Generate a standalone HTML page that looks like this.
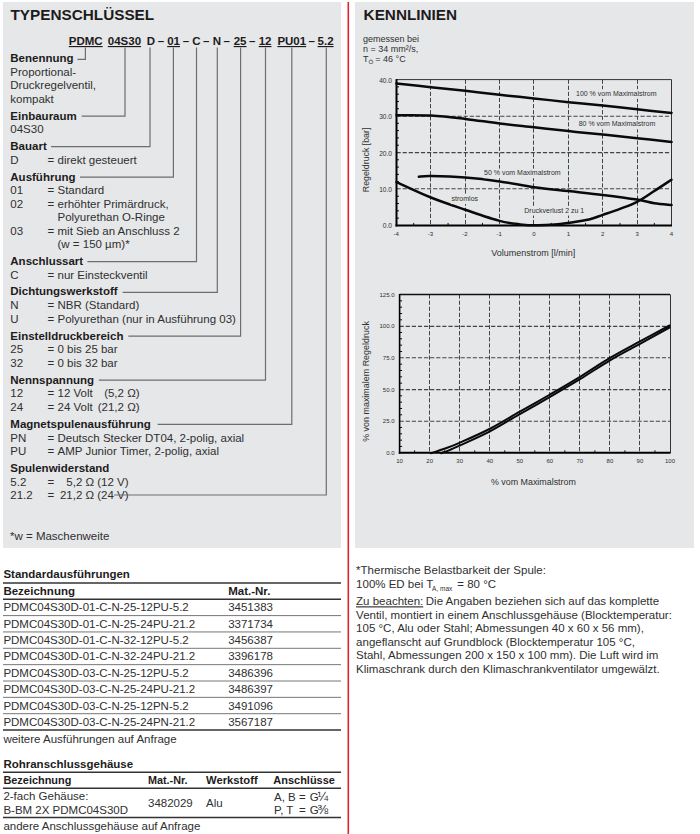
<!DOCTYPE html>
<html><head><meta charset="utf-8"><style>
html,body{margin:0;padding:0;background:#fff;width:700px;height:834px;overflow:hidden}
svg{display:block}
text{font-family:"Liberation Sans",sans-serif}
</style></head><body>
<svg width="700" height="834" viewBox="0 0 700 834">
<rect x="3" y="2" width="338" height="546" fill="#e6e7e8"/>
<rect x="355" y="2" width="339" height="546" fill="#e6e7e8"/>
<rect x="347.5" y="2" width="1.6" height="832" fill="#e52330"/>
<text x="10.5" y="20" font-size="15.3" font-weight="bold" fill="#1d1b1c">TYPENSCHLÜSSEL</text>
<text x="68.8" y="45" font-size="11.5" font-weight="bold" fill="#1d1b1c" text-decoration="underline">PDMC</text>
<text x="107.8" y="45" font-size="11.5" font-weight="bold" fill="#1d1b1c" text-decoration="underline">04S30</text>
<text x="146.8" y="45" font-size="11.5" font-weight="bold" fill="#1d1b1c">D</text>
<text x="157.8" y="45" font-size="11.5" font-weight="bold" fill="#1d1b1c">–</text>
<text x="167.20000000000002" y="45" font-size="11.5" font-weight="bold" fill="#1d1b1c" text-decoration="underline">01</text>
<text x="182.8" y="45" font-size="11.5" font-weight="bold" fill="#1d1b1c">–</text>
<text x="192.3" y="45" font-size="11.5" font-weight="bold" fill="#1d1b1c">C</text>
<text x="203.0" y="45" font-size="11.5" font-weight="bold" fill="#1d1b1c">–</text>
<text x="212.70000000000002" y="45" font-size="11.5" font-weight="bold" fill="#1d1b1c">N</text>
<text x="223.4" y="45" font-size="11.5" font-weight="bold" fill="#1d1b1c">–</text>
<text x="233.70000000000002" y="45" font-size="11.5" font-weight="bold" fill="#1d1b1c" text-decoration="underline">25</text>
<text x="249.10000000000002" y="45" font-size="11.5" font-weight="bold" fill="#1d1b1c">–</text>
<text x="258.7" y="45" font-size="11.5" font-weight="bold" fill="#1d1b1c" text-decoration="underline">12</text>
<text x="277.40000000000003" y="45" font-size="11.5" font-weight="bold" fill="#1d1b1c" text-decoration="underline">PU01</text>
<text x="308.6" y="45" font-size="11.5" font-weight="bold" fill="#1d1b1c">–</text>
<text x="317.6" y="45" font-size="11.5" font-weight="bold" fill="#1d1b1c" text-decoration="underline">5.2</text>
<text x="10.299999999999999" y="62.1" font-size="11.5" font-weight="bold" fill="#1d1b1c">Benennung</text>
<text x="10.299999999999999" y="75.7" font-size="11.5" fill="#2f2f30">Proportional-</text>
<text x="10.299999999999999" y="89.3" font-size="11.5" fill="#2f2f30">Druckregelventil,</text>
<text x="10.299999999999999" y="102.9" font-size="11.5" fill="#2f2f30">kompakt</text>
<text x="10.299999999999999" y="119.7" font-size="11.5" font-weight="bold" fill="#1d1b1c">Einbauraum</text>
<text x="10.299999999999999" y="133.2" font-size="11.5" fill="#2f2f30">04S30</text>
<text x="10.299999999999999" y="150.0" font-size="11.5" font-weight="bold" fill="#1d1b1c">Bauart</text>
<text x="10.299999999999999" y="164.0" font-size="11.5" fill="#2f2f30">D</text>
<text x="47.5" y="164.0" font-size="11.5" fill="#2f2f30">=</text>
<text x="57.5" y="164.0" font-size="11.5" fill="#2f2f30">direkt gesteuert</text>
<text x="10.299999999999999" y="180.7" font-size="11.5" font-weight="bold" fill="#1d1b1c">Ausführung</text>
<text x="10.299999999999999" y="194.3" font-size="11.5" fill="#2f2f30">01</text>
<text x="47.5" y="194.3" font-size="11.5" fill="#2f2f30">=</text>
<text x="57.5" y="194.3" font-size="11.5" fill="#2f2f30">Standard</text>
<text x="10.299999999999999" y="207.9" font-size="11.5" fill="#2f2f30">02</text>
<text x="47.5" y="207.9" font-size="11.5" fill="#2f2f30">=</text>
<text x="57.5" y="207.9" font-size="11.5" fill="#2f2f30">erhöhter Primärdruck,</text>
<text x="57.5" y="221.4" font-size="11.5" fill="#2f2f30">Polyurethan O-Ringe</text>
<text x="10.299999999999999" y="234.8" font-size="11.5" fill="#2f2f30">03</text>
<text x="47.5" y="234.8" font-size="11.5" fill="#2f2f30">=</text>
<text x="57.5" y="234.8" font-size="11.5" fill="#2f2f30">mit Sieb an Anschluss 2</text>
<text x="57.5" y="248.2" font-size="11.5" fill="#2f2f30">(w = 150 µm)*</text>
<text x="10.299999999999999" y="265.2" font-size="11.5" font-weight="bold" fill="#1d1b1c">Anschlussart</text>
<text x="10.299999999999999" y="278.7" font-size="11.5" fill="#2f2f30">C</text>
<text x="47.5" y="278.7" font-size="11.5" fill="#2f2f30">=</text>
<text x="57.5" y="278.7" font-size="11.5" fill="#2f2f30">nur Einsteckventil</text>
<text x="10.299999999999999" y="295.0" font-size="11.5" font-weight="bold" fill="#1d1b1c">Dichtungswerkstoff</text>
<text x="10.299999999999999" y="308.8" font-size="11.5" fill="#2f2f30">N</text>
<text x="47.5" y="308.8" font-size="11.5" fill="#2f2f30">=</text>
<text x="57.5" y="308.8" font-size="11.5" fill="#2f2f30">NBR (Standard)</text>
<text x="10.299999999999999" y="322.5" font-size="11.5" fill="#2f2f30">U</text>
<text x="47.5" y="322.5" font-size="11.5" fill="#2f2f30">=</text>
<text x="57.5" y="322.5" font-size="11.5" fill="#2f2f30">Polyurethan (nur in Ausführung 03)</text>
<text x="10.299999999999999" y="339.6" font-size="11.5" font-weight="bold" fill="#1d1b1c">Einstelldruckbereich</text>
<text x="10.299999999999999" y="353.2" font-size="11.5" fill="#2f2f30">25</text>
<text x="47.5" y="353.2" font-size="11.5" fill="#2f2f30">=</text>
<text x="57.5" y="353.2" font-size="11.5" fill="#2f2f30">0 bis 25 bar</text>
<text x="10.299999999999999" y="366.8" font-size="11.5" fill="#2f2f30">32</text>
<text x="47.5" y="366.8" font-size="11.5" fill="#2f2f30">=</text>
<text x="57.5" y="366.8" font-size="11.5" fill="#2f2f30">0 bis 32 bar</text>
<text x="10.299999999999999" y="383.6" font-size="11.5" font-weight="bold" fill="#1d1b1c">Nennspannung</text>
<text x="10.299999999999999" y="397.3" font-size="11.5" fill="#2f2f30">12</text>
<text x="47.5" y="397.3" font-size="11.5" fill="#2f2f30">=</text>
<text x="57.5" y="397.3" font-size="11.5" fill="#2f2f30">12 Volt</text>
<text x="10.299999999999999" y="411.0" font-size="11.5" fill="#2f2f30">24</text>
<text x="47.5" y="411.0" font-size="11.5" fill="#2f2f30">=</text>
<text x="57.5" y="411.0" font-size="11.5" fill="#2f2f30">24 Volt</text>
<text x="139.6" y="397.3" font-size="11.5" text-anchor="end" fill="#2f2f30">(5,2 Ω)</text>
<text x="139.6" y="411.0" font-size="11.5" text-anchor="end" fill="#2f2f30">(21,2 Ω)</text>
<text x="10.299999999999999" y="427.9" font-size="11.5" font-weight="bold" fill="#1d1b1c">Magnetspulenausführung</text>
<text x="10.299999999999999" y="441.5" font-size="11.5" fill="#2f2f30">PN</text>
<text x="47.5" y="441.5" font-size="11.5" fill="#2f2f30">=</text>
<text x="57.5" y="441.5" font-size="11.5" fill="#2f2f30">Deutsch Stecker DT04, 2-polig, axial</text>
<text x="10.299999999999999" y="455.0" font-size="11.5" fill="#2f2f30">PU</text>
<text x="47.5" y="455.0" font-size="11.5" fill="#2f2f30">=</text>
<text x="57.5" y="455.0" font-size="11.5" fill="#2f2f30">AMP Junior Timer, 2-polig, axial</text>
<text x="10.299999999999999" y="471.8" font-size="11.5" font-weight="bold" fill="#1d1b1c">Spulenwiderstand</text>
<text x="10.299999999999999" y="485.7" font-size="11.5" fill="#2f2f30">5.2</text>
<text x="47.5" y="485.7" font-size="11.5" fill="#2f2f30">=</text>
<text x="128.6" y="485.7" font-size="11.5" text-anchor="end" fill="#2f2f30">5,2 Ω (12 V)</text>
<text x="10.299999999999999" y="499.3" font-size="11.5" fill="#2f2f30">21.2</text>
<text x="47.5" y="499.3" font-size="11.5" fill="#2f2f30">=</text>
<text x="128.6" y="499.3" font-size="11.5" text-anchor="end" fill="#2f2f30">21,2 Ω (24 V)</text>
<text x="9.999999999999998" y="540.3" font-size="11.5" fill="#2f2f30">*w = Maschenweite</text>
<g stroke="#6d6e71" stroke-width="1.2" fill="none">
<polyline points="85.4,47.5 85.4,59.3 77.4,59.3"/>
<polyline points="125.0,47.5 125.0,116.2 81.7,116.2"/>
<polyline points="150.0,47.5 150.0,146.6 51,146.6"/>
<polyline points="173.4,47.5 173.4,177.1 80,177.1"/>
<polyline points="196.5,47.5 196.5,261.6 87.4,261.6"/>
<polyline points="217.3,47.5 217.3,292.3 122.6,292.3"/>
<polyline points="240.6,47.5 240.6,336.2 128.3,336.2"/>
<polyline points="265.5,47.5 265.5,380.2 98.8,380.2"/>
<polyline points="291.8,47.5 291.8,424.3 157.6,424.3"/>
<polyline points="326.3,47.5 326.3,495.0 114,495.0"/>
</g>
<text x="363.6" y="20" font-size="15.3" font-weight="bold" fill="#1d1b1c">KENNLINIEN</text>
<text x="363.0" y="41.7" font-size="9" fill="#2f2f30">gemessen bei</text>
<text x="363.0" y="52.1" font-size="9" fill="#2f2f30">n = 34 mm²/s,</text>
<text x="363.0" y="62.4" font-size="9" fill="#2f2f30">T</text>
<text x="368.6" y="64.4" font-size="6.2" fill="#2f2f30">Ö</text>
<text x="375.3" y="62.4" font-size="9" fill="#2f2f30">= 46 °C</text>
<line x1="430.5" y1="79.6" x2="430.5" y2="225.4" stroke="#444" stroke-width="1" stroke-dasharray="4.2 1.9"/>
<line x1="465.5" y1="79.6" x2="465.5" y2="225.4" stroke="#444" stroke-width="1" stroke-dasharray="4.2 1.9"/>
<line x1="499.5" y1="79.6" x2="499.5" y2="225.4" stroke="#444" stroke-width="1" stroke-dasharray="4.2 1.9"/>
<line x1="533.5" y1="79.6" x2="533.5" y2="225.4" stroke="#444" stroke-width="1" stroke-dasharray="4.2 1.9"/>
<line x1="568.5" y1="79.6" x2="568.5" y2="225.4" stroke="#444" stroke-width="1" stroke-dasharray="4.2 1.9"/>
<line x1="602.5" y1="79.6" x2="602.5" y2="225.4" stroke="#444" stroke-width="1" stroke-dasharray="4.2 1.9"/>
<line x1="637.5" y1="79.6" x2="637.5" y2="225.4" stroke="#444" stroke-width="1" stroke-dasharray="4.2 1.9"/>
<line x1="396.5" y1="188.8" x2="671.5" y2="188.8" stroke="#444" stroke-width="1.1" stroke-dasharray="4.2 1.9"/>
<line x1="396.5" y1="152.6" x2="671.5" y2="152.6" stroke="#444" stroke-width="1.1" stroke-dasharray="4.2 1.9"/>
<line x1="396.5" y1="116.3" x2="671.5" y2="116.3" stroke="#444" stroke-width="1.1" stroke-dasharray="4.2 1.9"/>
<line x1="396.5" y1="218.11" x2="399.0" y2="218.11" stroke="#111" stroke-width="1"/>
<line x1="396.5" y1="210.82" x2="399.0" y2="210.82" stroke="#111" stroke-width="1"/>
<line x1="396.5" y1="203.53" x2="399.0" y2="203.53" stroke="#111" stroke-width="1"/>
<line x1="396.5" y1="196.24" x2="399.0" y2="196.24" stroke="#111" stroke-width="1"/>
<line x1="396.5" y1="181.66" x2="399.0" y2="181.66" stroke="#111" stroke-width="1"/>
<line x1="396.5" y1="174.37" x2="399.0" y2="174.37" stroke="#111" stroke-width="1"/>
<line x1="396.5" y1="167.07999999999998" x2="399.0" y2="167.07999999999998" stroke="#111" stroke-width="1"/>
<line x1="396.5" y1="159.79000000000002" x2="399.0" y2="159.79000000000002" stroke="#111" stroke-width="1"/>
<line x1="396.5" y1="145.20999999999998" x2="399.0" y2="145.20999999999998" stroke="#111" stroke-width="1"/>
<line x1="396.5" y1="137.92000000000002" x2="399.0" y2="137.92000000000002" stroke="#111" stroke-width="1"/>
<line x1="396.5" y1="130.63" x2="399.0" y2="130.63" stroke="#111" stroke-width="1"/>
<line x1="396.5" y1="123.33999999999999" x2="399.0" y2="123.33999999999999" stroke="#111" stroke-width="1"/>
<line x1="396.5" y1="108.75999999999999" x2="399.0" y2="108.75999999999999" stroke="#111" stroke-width="1"/>
<line x1="396.5" y1="101.46999999999998" x2="399.0" y2="101.46999999999998" stroke="#111" stroke-width="1"/>
<line x1="396.5" y1="94.18" x2="399.0" y2="94.18" stroke="#111" stroke-width="1"/>
<line x1="396.5" y1="86.88999999999999" x2="399.0" y2="86.88999999999999" stroke="#111" stroke-width="1"/>
<line x1="413.6875" y1="225.4" x2="413.6875" y2="222.9" stroke="#111" stroke-width="1"/>
<line x1="448.0625" y1="225.4" x2="448.0625" y2="222.9" stroke="#111" stroke-width="1"/>
<line x1="482.4375" y1="225.4" x2="482.4375" y2="222.9" stroke="#111" stroke-width="1"/>
<line x1="516.8125" y1="225.4" x2="516.8125" y2="222.9" stroke="#111" stroke-width="1"/>
<line x1="551.1875" y1="225.4" x2="551.1875" y2="222.9" stroke="#111" stroke-width="1"/>
<line x1="585.5625" y1="225.4" x2="585.5625" y2="222.9" stroke="#111" stroke-width="1"/>
<line x1="619.9375" y1="225.4" x2="619.9375" y2="222.9" stroke="#111" stroke-width="1"/>
<line x1="654.3125" y1="225.4" x2="654.3125" y2="222.9" stroke="#111" stroke-width="1"/>
<line x1="396.5" y1="79.6" x2="671.5" y2="79.6" stroke="#333" stroke-width="1"/>
<line x1="671.5" y1="79.6" x2="671.5" y2="225.4" stroke="#333" stroke-width="1"/>
<line x1="396.5" y1="79.1" x2="396.5" y2="226.4" stroke="#000" stroke-width="2"/>
<line x1="395.5" y1="225.4" x2="672.0" y2="225.4" stroke="#000" stroke-width="2"/>
<text x="392.0" y="228.4" font-size="6.6" text-anchor="end" fill="#2f2f30">0.0</text>
<text x="392.0" y="191.95" font-size="6.6" text-anchor="end" fill="#2f2f30">10.0</text>
<text x="392.0" y="155.5" font-size="6.6" text-anchor="end" fill="#2f2f30">20.0</text>
<text x="392.0" y="119.05000000000001" font-size="6.6" text-anchor="end" fill="#2f2f30">30.0</text>
<text x="392.0" y="82.6" font-size="6.6" text-anchor="end" fill="#2f2f30">40.0</text>
<text x="396.1" y="235.6" font-size="6.1" text-anchor="middle" fill="#2f2f30">-4</text>
<text x="430.475" y="235.6" font-size="6.1" text-anchor="middle" fill="#2f2f30">-3</text>
<text x="464.85" y="235.6" font-size="6.1" text-anchor="middle" fill="#2f2f30">-2</text>
<text x="499.225" y="235.6" font-size="6.1" text-anchor="middle" fill="#2f2f30">-1</text>
<text x="534.0" y="235.6" font-size="6.1" text-anchor="middle" fill="#2f2f30">0</text>
<text x="568.375" y="235.6" font-size="6.1" text-anchor="middle" fill="#2f2f30">1</text>
<text x="602.75" y="235.6" font-size="6.1" text-anchor="middle" fill="#2f2f30">2</text>
<text x="637.125" y="235.6" font-size="6.1" text-anchor="middle" fill="#2f2f30">3</text>
<text x="671.5" y="235.6" font-size="6.1" text-anchor="middle" fill="#2f2f30">4</text>
<text x="491.3" y="255.6" font-size="9.0" fill="#2f2f30">Volumenstrom [l/min]</text>
<text x="0" y="0" font-size="8.8" text-anchor="middle" fill="#2f2f30" transform="translate(369.3,159.9) rotate(-90)">Regeldruck [bar]</text>
<path d="M396.50,83.60 C402.23,84.20 419.42,86.00 430.88,87.20 C442.33,88.40 453.79,89.53 465.25,90.80 C476.71,92.07 488.17,93.53 499.62,94.80 C511.08,96.07 522.54,97.17 534.00,98.40 C545.46,99.63 556.92,101.00 568.38,102.20 C579.83,103.40 591.29,104.42 602.75,105.60 C614.21,106.78 625.67,108.08 637.12,109.30 C648.58,110.52 665.77,112.30 671.50,112.90" fill="none" stroke="#0a0a0a" stroke-width="2.5" stroke-linejoin="round" stroke-linecap="round"/>
<path d="M396.50,115.30 C402.23,115.35 419.42,115.00 430.88,115.60 C442.33,116.20 453.79,117.58 465.25,118.90 C476.71,120.22 488.17,122.10 499.62,123.50 C511.08,124.90 522.54,126.03 534.00,127.30 C545.46,128.57 556.92,129.88 568.38,131.10 C579.83,132.32 591.29,133.42 602.75,134.60 C614.21,135.78 625.67,136.97 637.12,138.20 C648.58,139.43 665.77,141.37 671.50,142.00" fill="none" stroke="#0a0a0a" stroke-width="2.5" stroke-linejoin="round" stroke-linecap="round"/>
<path d="M418.84,176.70 C420.85,176.60 423.14,175.95 430.88,176.10 C438.61,176.25 453.79,176.72 465.25,177.60 C476.71,178.48 488.17,179.80 499.62,181.40 C511.08,183.00 522.54,185.58 534.00,187.20 C545.46,188.82 556.92,189.82 568.38,191.10 C579.83,192.38 591.29,193.48 602.75,194.90 C614.21,196.32 628.53,198.22 637.12,199.60 C645.72,200.98 648.58,202.30 654.31,203.20 C660.04,204.10 668.64,204.70 671.50,205.00" fill="none" stroke="#0a0a0a" stroke-width="2.5" stroke-linejoin="round" stroke-linecap="round"/>
<path d="M396.50,182.10 C402.23,184.67 419.42,192.90 430.88,197.50 C442.33,202.10 453.79,205.80 465.25,209.70 C476.71,213.60 490.46,218.45 499.62,220.90 C508.79,223.35 513.95,223.67 520.25,224.40 C526.55,225.13 531.71,225.27 537.44,225.30 C543.17,225.33 549.47,225.00 554.62,224.60 C559.78,224.20 562.65,223.75 568.38,222.90 C574.10,222.05 583.27,220.83 589.00,219.50 C594.73,218.17 597.59,216.67 602.75,214.90 C607.91,213.13 614.21,211.08 619.94,208.90 C625.67,206.72 631.40,204.78 637.12,201.80 C642.85,198.82 648.58,194.68 654.31,191.00 C660.04,187.32 668.64,181.58 671.50,179.70" fill="none" stroke="#0a0a0a" stroke-width="2.5" stroke-linejoin="round" stroke-linecap="round"/>
<rect x="575.2" y="89.2" width="81.7" height="9.6" fill="#e6e7e8"/>
<text x="576.0" y="95.8" font-size="7" fill="#2f2f30">100 % vom Maximalstrom</text>
<rect x="577.9000000000001" y="119.80000000000001" width="77.8" height="9.6" fill="#e6e7e8"/>
<text x="578.7" y="126.4" font-size="7" fill="#2f2f30">80 % vom Maximalstrom</text>
<rect x="483.2" y="168.6" width="77.8" height="9.6" fill="#e6e7e8"/>
<text x="484.0" y="175.2" font-size="7" fill="#2f2f30">50 % vom Maximalstrom</text>
<rect x="450.8" y="194.5" width="27.7" height="9.6" fill="#e6e7e8"/>
<text x="451.6" y="201.1" font-size="7" fill="#2f2f30">stromlos</text>
<rect x="523.5" y="206.0" width="61.1" height="9.6" fill="#e6e7e8"/>
<text x="524.3" y="212.6" font-size="7" fill="#2f2f30">Druckverlust 2 zu 1</text>
<line x1="429.5" y1="294.5" x2="429.5" y2="452.8" stroke="#444" stroke-width="1" stroke-dasharray="4.2 1.9"/>
<line x1="459.5" y1="294.5" x2="459.5" y2="452.8" stroke="#444" stroke-width="1" stroke-dasharray="4.2 1.9"/>
<line x1="489.5" y1="294.5" x2="489.5" y2="452.8" stroke="#444" stroke-width="1" stroke-dasharray="4.2 1.9"/>
<line x1="519.5" y1="294.5" x2="519.5" y2="452.8" stroke="#444" stroke-width="1" stroke-dasharray="4.2 1.9"/>
<line x1="549.5" y1="294.5" x2="549.5" y2="452.8" stroke="#444" stroke-width="1" stroke-dasharray="4.2 1.9"/>
<line x1="579.5" y1="294.5" x2="579.5" y2="452.8" stroke="#444" stroke-width="1" stroke-dasharray="4.2 1.9"/>
<line x1="609.5" y1="294.5" x2="609.5" y2="452.8" stroke="#444" stroke-width="1" stroke-dasharray="4.2 1.9"/>
<line x1="639.5" y1="294.5" x2="639.5" y2="452.8" stroke="#444" stroke-width="1" stroke-dasharray="4.2 1.9"/>
<line x1="399.6" y1="421.3" x2="670.0" y2="421.3" stroke="#444" stroke-width="1.1" stroke-dasharray="4.2 1.9"/>
<line x1="399.6" y1="389.6" x2="670.0" y2="389.6" stroke="#444" stroke-width="1.1" stroke-dasharray="4.2 1.9"/>
<line x1="399.6" y1="357.8" x2="670.0" y2="357.8" stroke="#444" stroke-width="1.1" stroke-dasharray="4.2 1.9"/>
<line x1="399.6" y1="326.4" x2="670.0" y2="326.4" stroke="#444" stroke-width="1.1" stroke-dasharray="4.2 1.9"/>
<line x1="399.6" y1="446.468" x2="402.1" y2="446.468" stroke="#111" stroke-width="1"/>
<line x1="399.6" y1="440.136" x2="402.1" y2="440.136" stroke="#111" stroke-width="1"/>
<line x1="399.6" y1="433.80400000000003" x2="402.1" y2="433.80400000000003" stroke="#111" stroke-width="1"/>
<line x1="399.6" y1="427.47200000000004" x2="402.1" y2="427.47200000000004" stroke="#111" stroke-width="1"/>
<line x1="399.6" y1="414.808" x2="402.1" y2="414.808" stroke="#111" stroke-width="1"/>
<line x1="399.6" y1="408.476" x2="402.1" y2="408.476" stroke="#111" stroke-width="1"/>
<line x1="399.6" y1="402.144" x2="402.1" y2="402.144" stroke="#111" stroke-width="1"/>
<line x1="399.6" y1="395.812" x2="402.1" y2="395.812" stroke="#111" stroke-width="1"/>
<line x1="399.6" y1="383.148" x2="402.1" y2="383.148" stroke="#111" stroke-width="1"/>
<line x1="399.6" y1="376.81600000000003" x2="402.1" y2="376.81600000000003" stroke="#111" stroke-width="1"/>
<line x1="399.6" y1="370.48400000000004" x2="402.1" y2="370.48400000000004" stroke="#111" stroke-width="1"/>
<line x1="399.6" y1="364.15200000000004" x2="402.1" y2="364.15200000000004" stroke="#111" stroke-width="1"/>
<line x1="399.6" y1="351.488" x2="402.1" y2="351.488" stroke="#111" stroke-width="1"/>
<line x1="399.6" y1="345.156" x2="402.1" y2="345.156" stroke="#111" stroke-width="1"/>
<line x1="399.6" y1="338.824" x2="402.1" y2="338.824" stroke="#111" stroke-width="1"/>
<line x1="399.6" y1="332.49199999999996" x2="402.1" y2="332.49199999999996" stroke="#111" stroke-width="1"/>
<line x1="399.6" y1="319.828" x2="402.1" y2="319.828" stroke="#111" stroke-width="1"/>
<line x1="399.6" y1="313.496" x2="402.1" y2="313.496" stroke="#111" stroke-width="1"/>
<line x1="399.6" y1="307.164" x2="402.1" y2="307.164" stroke="#111" stroke-width="1"/>
<line x1="399.6" y1="300.832" x2="402.1" y2="300.832" stroke="#111" stroke-width="1"/>
<line x1="414.62222222222226" y1="452.8" x2="414.62222222222226" y2="450.3" stroke="#111" stroke-width="1"/>
<line x1="444.6666666666667" y1="452.8" x2="444.6666666666667" y2="450.3" stroke="#111" stroke-width="1"/>
<line x1="474.7111111111111" y1="452.8" x2="474.7111111111111" y2="450.3" stroke="#111" stroke-width="1"/>
<line x1="504.7555555555556" y1="452.8" x2="504.7555555555556" y2="450.3" stroke="#111" stroke-width="1"/>
<line x1="534.8" y1="452.8" x2="534.8" y2="450.3" stroke="#111" stroke-width="1"/>
<line x1="564.8444444444444" y1="452.8" x2="564.8444444444444" y2="450.3" stroke="#111" stroke-width="1"/>
<line x1="594.8888888888889" y1="452.8" x2="594.8888888888889" y2="450.3" stroke="#111" stroke-width="1"/>
<line x1="624.9333333333334" y1="452.8" x2="624.9333333333334" y2="450.3" stroke="#111" stroke-width="1"/>
<line x1="654.9777777777778" y1="452.8" x2="654.9777777777778" y2="450.3" stroke="#111" stroke-width="1"/>
<line x1="399.6" y1="294.5" x2="670.0" y2="294.5" stroke="#111" stroke-width="1.3"/>
<line x1="670.5" y1="294.5" x2="670.5" y2="452.8" stroke="#333" stroke-width="1"/>
<line x1="399.6" y1="294.0" x2="399.6" y2="453.8" stroke="#000" stroke-width="1.6"/>
<line x1="398.8" y1="452.8" x2="670.5" y2="452.8" stroke="#000" stroke-width="2"/>
<text x="394.5" y="455.1" font-size="6.0" text-anchor="end" fill="#2f2f30">0.0</text>
<text x="394.5" y="423.44" font-size="6.0" text-anchor="end" fill="#2f2f30">25.0</text>
<text x="394.5" y="391.78000000000003" font-size="6.0" text-anchor="end" fill="#2f2f30">50.0</text>
<text x="394.5" y="360.12" font-size="6.0" text-anchor="end" fill="#2f2f30">75.0</text>
<text x="394.5" y="328.46" font-size="6.0" text-anchor="end" fill="#2f2f30">100.0</text>
<text x="394.5" y="296.8" font-size="6.0" text-anchor="end" fill="#2f2f30">125.0</text>
<text x="399.6" y="462.6" font-size="6.0" text-anchor="middle" fill="#2f2f30">10</text>
<text x="429.64444444444445" y="462.6" font-size="6.0" text-anchor="middle" fill="#2f2f30">20</text>
<text x="459.6888888888889" y="462.6" font-size="6.0" text-anchor="middle" fill="#2f2f30">30</text>
<text x="489.73333333333335" y="462.6" font-size="6.0" text-anchor="middle" fill="#2f2f30">40</text>
<text x="519.7777777777778" y="462.6" font-size="6.0" text-anchor="middle" fill="#2f2f30">50</text>
<text x="549.8222222222222" y="462.6" font-size="6.0" text-anchor="middle" fill="#2f2f30">60</text>
<text x="579.8666666666667" y="462.6" font-size="6.0" text-anchor="middle" fill="#2f2f30">70</text>
<text x="609.9111111111112" y="462.6" font-size="6.0" text-anchor="middle" fill="#2f2f30">80</text>
<text x="639.9555555555555" y="462.6" font-size="6.0" text-anchor="middle" fill="#2f2f30">90</text>
<text x="670.0" y="462.6" font-size="6.0" text-anchor="middle" fill="#2f2f30">100</text>
<text x="491.0" y="484.9" font-size="8.9" fill="#2f2f30">% vom Maximalstrom</text>
<text x="0" y="0" font-size="8.95" text-anchor="middle" fill="#2f2f30" transform="translate(369.0,381.5) rotate(-90)">% von maximalem Regeldruck</text>
<path d="M431.00,453.20 C433.33,452.42 440.25,450.23 445.00,448.50 C449.75,446.77 452.08,446.05 459.50,442.80 C466.92,439.55 479.45,434.18 489.50,429.00 C499.55,423.82 509.72,417.45 519.80,411.70 C529.88,405.95 539.97,400.32 550.00,394.50 C560.03,388.68 570.00,382.90 580.00,376.80 C590.00,370.70 600.00,363.80 610.00,357.90 C620.00,352.00 630.08,346.80 640.00,341.40 C649.92,336.00 664.58,328.15 669.50,325.50" fill="none" stroke="#0a0a0a" stroke-width="2.0" stroke-linejoin="round" stroke-linecap="round"/>
<path d="M441.00,453.20 C442.50,452.63 446.92,451.07 450.00,449.80 C453.08,448.53 452.92,448.63 459.50,445.60 C466.08,442.57 479.45,436.85 489.50,431.60 C499.55,426.35 509.72,419.88 519.80,414.10 C529.88,408.32 539.97,402.72 550.00,396.90 C560.03,391.08 570.00,385.30 580.00,379.20 C590.00,373.10 600.00,366.20 610.00,360.30 C620.00,354.40 630.08,349.27 640.00,343.80 C649.92,338.33 664.58,330.22 669.50,327.50" fill="none" stroke="#0a0a0a" stroke-width="2.0" stroke-linejoin="round" stroke-linecap="round"/>
<text x="356.1" y="574.3" font-size="11.5" fill="#2f2f30">*Thermische Belastbarkeit der Spule:</text>
<text x="356.1" y="587.9" font-size="11.5" fill="#2f2f30">100% ED bei T</text>
<text x="432.1" y="591.0" font-size="6.5" fill="#2f2f30">A, max</text>
<text x="457.3" y="587.9" font-size="11.5" fill="#2f2f30">= 80 °C</text>
<text x="356.1" y="605.3" font-size="11.5" fill="#2f2f30" text-decoration="underline">Zu beachten:</text>
<text x="425.8" y="605.3" font-size="11.5" fill="#2f2f30">Die Angaben beziehen sich auf das komplette</text>
<text x="356.1" y="618.7" font-size="11.5" fill="#2f2f30">Ventil, montiert in einem Anschlussgehäuse (Blocktemperatur:</text>
<text x="356.1" y="632.2" font-size="11.5" fill="#2f2f30">105 °C, Alu oder Stahl; Abmessungen 40 x 60 x 56 mm),</text>
<text x="356.1" y="645.7" font-size="11.5" fill="#2f2f30">angeflanscht auf Grundblock (Blocktemperatur 105 °C,</text>
<text x="356.1" y="659.2" font-size="11.5" fill="#2f2f30">Stahl, Abmessungen 200 x 150 x 100 mm). Die Luft wird im</text>
<text x="356.1" y="672.7" font-size="11.5" fill="#2f2f30">Klimaschrank durch den Klimaschrankventilator umgewälzt.</text>
<text x="3.4" y="578.0" font-size="11.5" font-weight="bold" fill="#1d1b1c">Standardausführungen</text>
<line x1="3" y1="582.9" x2="341" y2="582.9" stroke="#333" stroke-width="1.5"/>
<text x="3.4" y="595.1" font-size="11.5" font-weight="bold" fill="#1d1b1c">Bezeichnung</text>
<text x="228.2" y="595.1" font-size="11.5" font-weight="bold" fill="#1d1b1c">Mat.-Nr.</text>
<line x1="3" y1="599.2" x2="341" y2="599.2" stroke="#333" stroke-width="1.5"/>
<text x="3.4" y="611.4" font-size="11.5" fill="#2f2f30">PDMC04S30D-01-C-N-25-12PU-5.2</text>
<text x="228.2" y="611.4" font-size="11.5" fill="#2f2f30">3451383</text>
<line x1="3" y1="615.6" x2="341" y2="615.6" stroke="#777" stroke-width="1"/>
<text x="3.4" y="627.75" font-size="11.5" fill="#2f2f30">PDMC04S30D-01-C-N-25-24PU-21.2</text>
<text x="228.2" y="627.75" font-size="11.5" fill="#2f2f30">3371734</text>
<line x1="3" y1="631.95" x2="341" y2="631.95" stroke="#777" stroke-width="1"/>
<text x="3.4" y="644.1" font-size="11.5" fill="#2f2f30">PDMC04S30D-01-C-N-32-12PU-5.2</text>
<text x="228.2" y="644.1" font-size="11.5" fill="#2f2f30">3456387</text>
<line x1="3" y1="648.3000000000001" x2="341" y2="648.3000000000001" stroke="#777" stroke-width="1"/>
<text x="3.4" y="660.4499999999999" font-size="11.5" fill="#2f2f30">PDMC04S30D-01-C-N-32-24PU-21.2</text>
<text x="228.2" y="660.4499999999999" font-size="11.5" fill="#2f2f30">3396178</text>
<line x1="3" y1="664.65" x2="341" y2="664.65" stroke="#777" stroke-width="1"/>
<text x="3.4" y="676.8" font-size="11.5" fill="#2f2f30">PDMC04S30D-03-C-N-25-12PU-5.2</text>
<text x="228.2" y="676.8" font-size="11.5" fill="#2f2f30">3486396</text>
<line x1="3" y1="681.0" x2="341" y2="681.0" stroke="#777" stroke-width="1"/>
<text x="3.4" y="693.15" font-size="11.5" fill="#2f2f30">PDMC04S30D-03-C-N-25-24PU-21.2</text>
<text x="228.2" y="693.15" font-size="11.5" fill="#2f2f30">3486397</text>
<line x1="3" y1="697.35" x2="341" y2="697.35" stroke="#777" stroke-width="1"/>
<text x="3.4" y="709.5" font-size="11.5" fill="#2f2f30">PDMC04S30D-03-C-N-25-12PN-5.2</text>
<text x="228.2" y="709.5" font-size="11.5" fill="#2f2f30">3491096</text>
<line x1="3" y1="713.7" x2="341" y2="713.7" stroke="#777" stroke-width="1"/>
<text x="3.4" y="725.85" font-size="11.5" fill="#2f2f30">PDMC04S30D-03-C-N-25-24PN-21.2</text>
<text x="228.2" y="725.85" font-size="11.5" fill="#2f2f30">3567187</text>
<line x1="3" y1="730.0500000000001" x2="341" y2="730.0500000000001" stroke="#333" stroke-width="1.5"/>
<text x="3.4" y="742.6" font-size="11.5" fill="#2f2f30">weitere Ausführungen auf Anfrage</text>
<text x="3.4" y="767.8" font-size="11.5" font-weight="bold" fill="#1d1b1c">Rohranschlussgehäuse</text>
<line x1="3" y1="772.3" x2="341" y2="772.3" stroke="#333" stroke-width="1.5"/>
<text x="3.4" y="784.2" font-size="11.5" font-weight="bold" fill="#1d1b1c" lengthAdjust="spacingAndGlyphs" textLength="68.0">Bezeichnung</text>
<text x="148.0" y="784.2" font-size="11.5" font-weight="bold" fill="#1d1b1c" lengthAdjust="spacingAndGlyphs" textLength="39.6">Mat.-Nr.</text>
<text x="206.0" y="784.2" font-size="11.5" font-weight="bold" fill="#1d1b1c" lengthAdjust="spacingAndGlyphs" textLength="51.7">Werkstoff</text>
<text x="273.3" y="784.2" font-size="11.5" font-weight="bold" fill="#1d1b1c" lengthAdjust="spacingAndGlyphs" textLength="61.6">Anschlüsse</text>
<line x1="3" y1="788.3" x2="341" y2="788.3" stroke="#333" stroke-width="1.5"/>
<text x="3.4" y="800.4" font-size="11.5" fill="#2f2f30">2-fach Gehäuse:</text>
<text x="3.4" y="814.0" font-size="11.5" fill="#2f2f30">B-BM 2X PDMC04S30D</text>
<text x="148.0" y="807.2" font-size="11.5" fill="#2f2f30">3482029</text>
<text x="206.0" y="807.2" font-size="11.5" fill="#2f2f30">Alu</text>
<text x="274.0" y="800.6" font-size="11.5" fill="#2f2f30">A, B</text>
<text x="299.0" y="800.6" font-size="11.5" fill="#2f2f30">=</text>
<text x="309.8" y="800.6" font-size="11.5" fill="#2f2f30">G</text>
<text x="317.6" y="800.6" font-size="12.8" fill="#2f2f30">¼</text>
<text x="274.0" y="813.8" font-size="11.5" fill="#2f2f30">P, T</text>
<text x="299.0" y="813.8" font-size="11.5" fill="#2f2f30">=</text>
<text x="309.8" y="813.8" font-size="11.5" fill="#2f2f30">G</text>
<text x="317.6" y="813.8" font-size="12.8" fill="#2f2f30">⅜</text>
<line x1="3" y1="817.4" x2="341" y2="817.4" stroke="#333" stroke-width="1.5"/>
<text x="3.4" y="830.0" font-size="11.5" fill="#2f2f30">andere Anschlussgehäuse auf Anfrage</text>
</svg></body></html>
